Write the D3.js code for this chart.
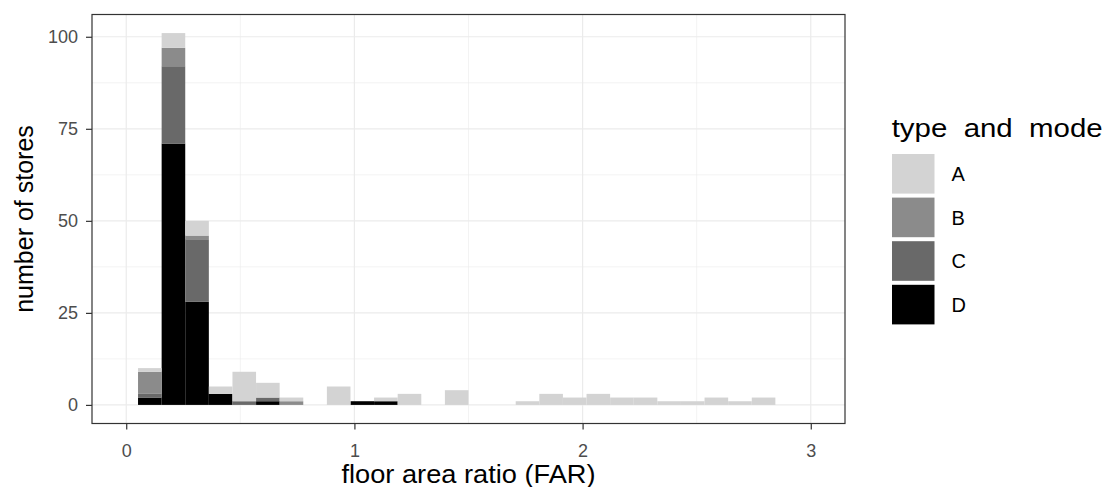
<!DOCTYPE html>
<html>
<head>
<meta charset="utf-8">
<script src="https://cdn.jsdelivr.net/npm/d3@7"></script>
<style>
  body { margin: 0; background: #fff; }
  text { font-family: "Liberation Sans", Arial, sans-serif; }
</style>
</head>
<body>
<svg id="chart" width="1109" height="487"></svg>
<script>
// counts per histogram bin (30 bins over FAR 0..3, bin i centred at i * 3/29)
const types = ["A", "B", "C", "D"];
const countsA = [0, 1, 4, 4, 2, 8, 4, 1, 0, 5, 0, 1, 3, 0, 4, 0, 0, 1, 3, 2, 3, 2, 2, 1, 1, 2, 1, 2, 0, 0];
const countsB = [0, 6, 5, 1, 0, 0, 0, 1, 0, 0, 0, 0, 0, 0, 0, 0, 0, 0, 0, 0, 0, 0, 0, 0, 0, 0, 0, 0, 0, 0];
const countsC = [0, 1, 21, 17, 0, 1, 1, 0, 0, 0, 0, 0, 0, 0, 0, 0, 0, 0, 0, 0, 0, 0, 0, 0, 0, 0, 0, 0, 0, 0];
const countsD = [0, 2, 71, 28, 3, 0, 1, 0, 0, 0, 1, 1, 0, 0, 0, 0, 0, 0, 0, 0, 0, 0, 0, 0, 0, 0, 0, 0, 0, 0];
const xTicks = [0, 1, 2, 3];
const yTicks = [0, 25, 50, 75, 100];
const colors = { A: "#d3d3d3", B: "#8b8b8b", C: "#696969", D: "#000000" };

const binWidth = 3 / 29;
const rows = countsA.map((_, i) => ({
  x0: (i - 0.5) * binWidth,
  x1: (i + 0.5) * binWidth,
  A: countsA[i], B: countsB[i], C: countsC[i], D: countsD[i]
}));

const panel = { left: 92, right: 845, top: 14.5, bottom: 423.5 };
const svg = d3.select("#chart");

const x = d3.scaleLinear().domain([-0.15, 3.15]).range([panel.left, panel.right]);
const maxTotal = d3.max(rows, d => d.A + d.B + d.C + d.D);
const y = d3.scaleLinear()
  .domain([-0.05 * maxTotal, maxTotal * 1.05])
  .range([panel.bottom, panel.top]);

// grid
const grid = svg.append("g");
const xMinor = [0.5, 1.5, 2.5];
const yMinor = [12.5, 37.5, 62.5, 87.5];
grid.selectAll("line.xminor").data(xMinor).join("line")
  .attr("x1", d => x(d)).attr("x2", d => x(d))
  .attr("y1", panel.top).attr("y2", panel.bottom)
  .attr("stroke", "#ebebeb").attr("stroke-width", 0.6);
grid.selectAll("line.yminor").data(yMinor).join("line")
  .attr("y1", d => y(d)).attr("y2", d => y(d))
  .attr("x1", panel.left).attr("x2", panel.right)
  .attr("stroke", "#ebebeb").attr("stroke-width", 0.6);
grid.selectAll("line.xmajor").data(xTicks).join("line")
  .attr("x1", d => x(d)).attr("x2", d => x(d))
  .attr("y1", panel.top).attr("y2", panel.bottom)
  .attr("stroke", "#ebebeb").attr("stroke-width", 1.2);
grid.selectAll("line.ymajor").data(yTicks).join("line")
  .attr("y1", d => y(d)).attr("y2", d => y(d))
  .attr("x1", panel.left).attr("x2", panel.right)
  .attr("stroke", "#ebebeb").attr("stroke-width", 1.2);

// stacked bars, A on top, D at the bottom
const stack = d3.stack().keys(["D", "C", "B", "A"]);
const series = stack(rows);

svg.append("g")
  .selectAll("g")
  .data(series)
  .join("g")
  .attr("fill", s => colors[s.key])
  .selectAll("rect")
  .data(s => s.filter(d => d[1] > d[0]))
  .join("rect")
  .attr("x", d => x(d.data.x0))
  .attr("width", d => x(d.data.x1) - x(d.data.x0))
  .attr("y", d => y(d[1]))
  .attr("height", d => y(d[0]) - y(d[1]));

// panel border
svg.append("rect")
  .attr("x", panel.left).attr("y", panel.top)
  .attr("width", panel.right - panel.left).attr("height", panel.bottom - panel.top)
  .attr("fill", "none").attr("stroke", "#333333").attr("stroke-width", 1.2);

// axes
const xAxis = svg.append("g")
  .attr("transform", `translate(0, ${panel.bottom})`)
  .call(d3.axisBottom(x).tickValues(xTicks).tickSize(6).tickPadding(14.5).tickFormat(d3.format("d")));
const yAxis = svg.append("g")
  .attr("transform", `translate(${panel.left}, 0)`)
  .call(d3.axisLeft(y).tickValues(yTicks).tickSize(6).tickPadding(8).tickFormat(d3.format("d")));

[xAxis, yAxis].forEach(a => {
  a.select(".domain").remove();
  a.selectAll(".tick line").attr("stroke", "#333333").attr("stroke-width", 1.2);
  a.selectAll(".tick text")
    .attr("fill", "#4d4d4d")
    .style("font-size", "18px")
    .style("font-family", "'Liberation Sans', Arial, sans-serif");
});

// axis titles
svg.append("text")
  .attr("x", (panel.left + panel.right) / 2)
  .attr("y", 483)
  .attr("text-anchor", "middle")
  .attr("textLength", 254)
  .attr("lengthAdjust", "spacingAndGlyphs")
  .style("font-size", "25px")
  .text("floor area ratio (FAR)");

svg.append("text")
  .attr("transform", `translate(33, ${(panel.top + panel.bottom) / 2}) rotate(-90)`)
  .attr("text-anchor", "middle")
  .style("font-size", "25px")
  .text("number of stores");

// legend
const legend = svg.append("g");
legend.append("text")
  .attr("x", 891.7)
  .attr("y", 137)
  .attr("textLength", 211)
  .attr("lengthAdjust", "spacingAndGlyphs")
  .style("font-size", "25px")
  .style("white-space", "pre")
  .text("type  and  mode");

const keyH = 39.6, keyStep = 43.6, keyTop = 154;
const item = legend.selectAll("g.item").data(types).join("g")
  .attr("class", "item")
  .attr("transform", (d, i) => `translate(0, ${keyTop + i * keyStep})`);
item.append("rect")
  .attr("x", 892).attr("width", 42.5).attr("height", keyH)
  .attr("fill", d => colors[d]);
item.append("text")
  .attr("x", 951.5).attr("y", keyH / 2)
  .attr("dy", "0.36em")
  .style("font-size", "20px")
  .text(d => d);
</script>
</body>
</html>
